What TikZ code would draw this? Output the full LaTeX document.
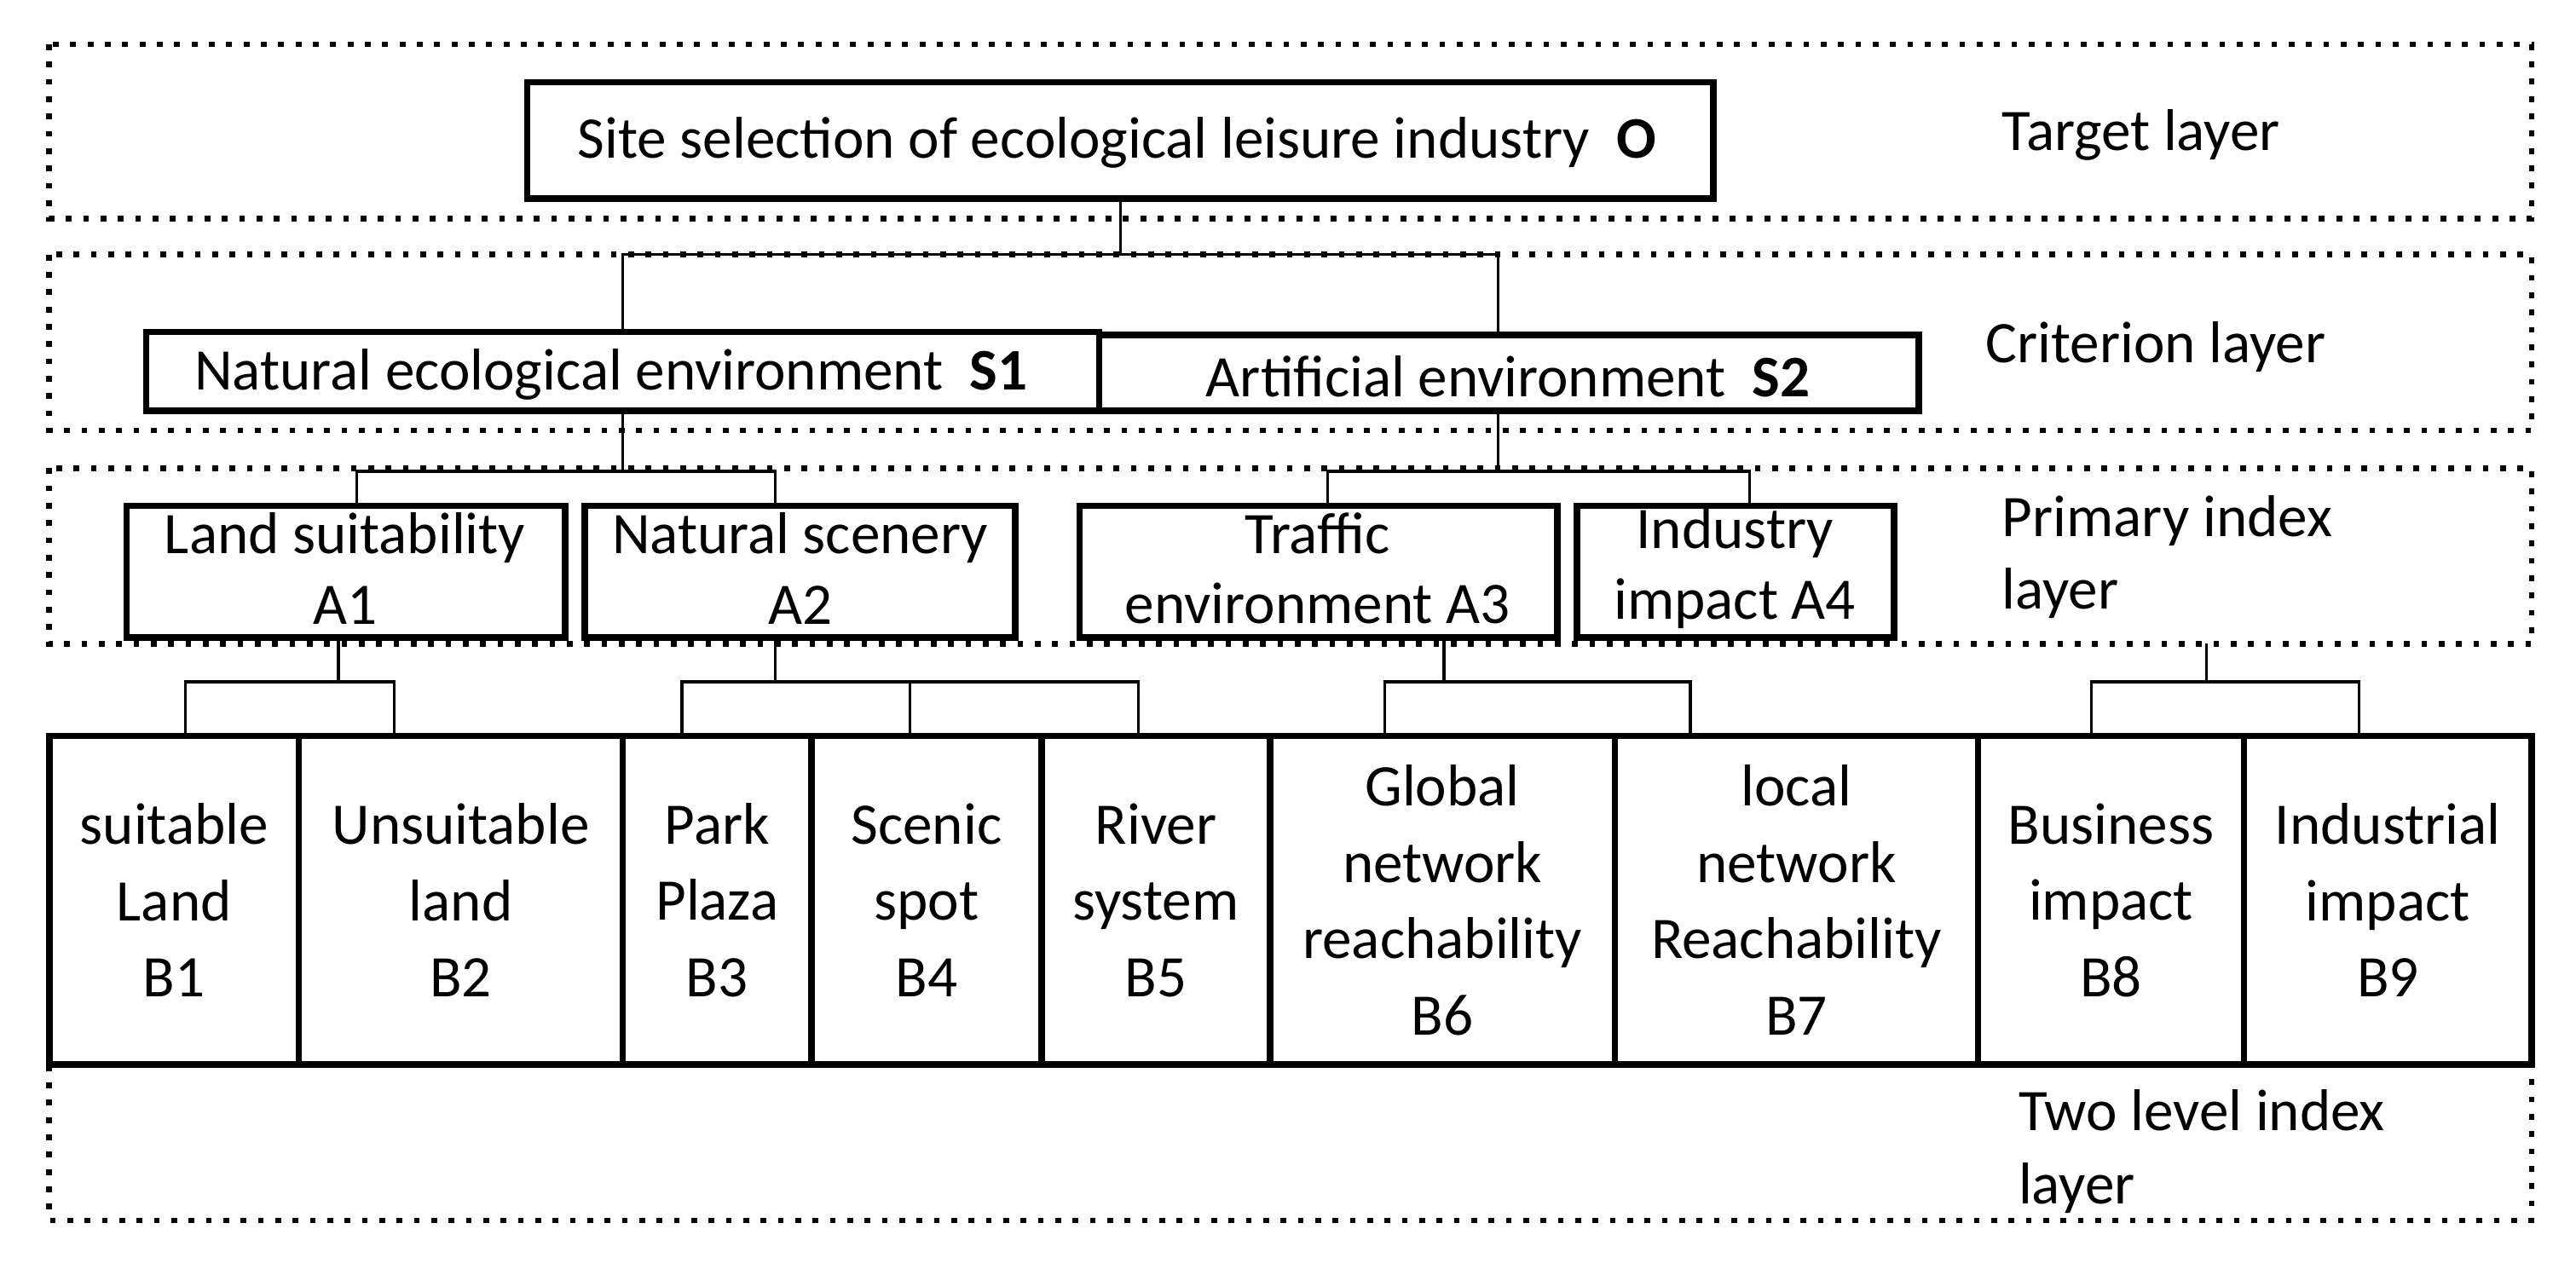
\documentclass[tikz,border=0pt]{standalone}
\usepackage{fontspec}
\setmainfont{Carlito}
\begin{document}
\begin{tikzpicture}[x=0.01cm,y=-0.01cm,
  bx/.style={draw,line width=1.1pt,fill=white},
  txt/.style={font=\fontsize{10.2}{13.2}\selectfont,align=center,inner sep=0pt},
  atxt/.style={font=\fontsize{10.2}{12.2}\selectfont,align=center,inner sep=0pt},
  lay/.style={draw,dotted,line width=1pt},
  con/.style={line width=0.5pt},
  lab/.style={font=\fontsize{10.2}{12.6}\selectfont,align=left,anchor=west,inner sep=0pt}]
\useasboundingbox (0,0) rectangle (1568,776);
\draw[lay] (30,27) rectangle (1541,133);
\draw[lay] (30,155) rectangle (1541,262);
\draw[lay] (30,285) rectangle (1541,392);
\draw[lay] (30,448) rectangle (1541,743);
\node[lab] (L1) at (1218,82) {Target layer};
\node[lab] (L2) at (1208,211) {Criterion layer};
\node[lab] (L3) at (1218,339) {Primary index\\layer};
\node[lab] (L4) at (1228,701) {Two level index\\layer};
% connectors (drawn first, boxes cover)
\draw[con] (682,121) -- (682,155) coordinate (j0);
\draw[con] (379,202) |- (j0) -| (912,204);
\draw[con] (379,250) -- (379,287) coordinate (j1);
\draw[con] (217,308) |- (j1) -| (472,308);
\draw[con] (912,250) -- (912,287) coordinate (j2);
\draw[con] (808,308) |- (j2) -| (1065,308);
\draw[con] (206,388) -- (206,415) coordinate (k1);
\draw[con] (113,448) |- (k1) -| (240,448);
\draw[con] (472,388) -- (472,415) coordinate (k2);
\draw[con] (415,448) |- (k2) -| (693,448);
\draw[con] (554,415) -- (554,448);
\draw[con] (879,388) -- (879,415) coordinate (k3);
\draw[con] (843,448) |- (k3) -| (1029,448);
\draw[con] (1343,392) -- (1343,415) coordinate (k4);
\draw[con] (1273,448) |- (k4) -| (1436,448);
% boxes
\draw[bx] (321,50) rectangle (1043,121);
\node[txt] (O) at (680,87) {Site selection of ecological leisure industry \ \textbf{O}};
\draw[bx] (89,202) rectangle (669,250);
\node[txt] (S1) at (372,228) {Natural ecological environment \ \textbf{S1}};
\draw[bx] (669,204) rectangle (1168,250);
\node[txt] (S2) at (918,229) {Artificial environment \ \textbf{S2}};
\draw[bx] (77,308) rectangle (344,388);
\node[atxt] (A1) at (210,346) {Land suitability\\A1};
\draw[bx] (356,308) rectangle (618,388);
\node[atxt] (A2) at (487,346) {Natural scenery\\A2};
\draw[bx] (657,308) rectangle (948,388);
\node[atxt] (A3) at (802,346) {Traffic\\environment A3};
\draw[bx] (960,308) rectangle (1153,388);
\node[atxt] (A4) at (1056,346) {Industry\\impact A4};
\foreach \n/\l/\r/\t in {B1/30/182/{suitable\\Land\\B1},B2/182/379/{Unsuitable\\land\\B2},B3/379/494/{Park\\Plaza\\B3},B4/494/634/{Scenic\\spot\\B4},B5/634/773/{River\\system\\B5},B6/773/983/{Global\\network\\reachability\\B6},B7/983/1204/{local\\network\\Reachability\\B7},B8/1204/1366/{Business\\impact\\B8},B9/1366/1541/{Industrial\\impact\\B9}}{
  \draw[bx] (\l,448) rectangle (\r,648);
  \node[txt] (\n) at ({(\l+\r)/2},548) {\t};}
\end{tikzpicture}
\end{document}
